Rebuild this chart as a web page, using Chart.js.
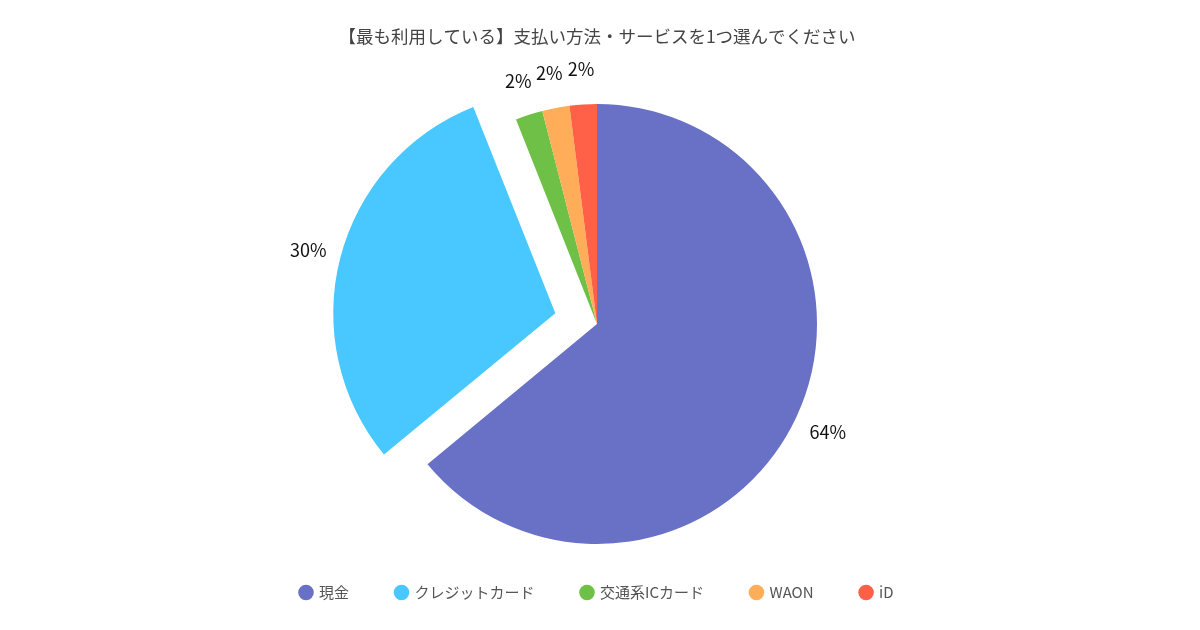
<!DOCTYPE html>
<html lang="ja">
<head>
<meta charset="UTF-8" />
<title>支払い方法</title>
<style>
 * { margin: 0; padding: 0; box-sizing: border-box; }
 body { width: 1200px; height: 630px; background: #fff; overflow: hidden; }
 .wrap { width: 1200px; height: 630px; position: relative; }
</style>
</head>
<body>
<div class="wrap">
 <canvas id="chart" width="1200" height="630"></canvas>
</div>

<script src="https://cdn.jsdelivr.net/npm/chart.js@4.4.1/dist/chart.umd.min.js"></script>
<script>
 const titleText = '【最も利用している】支払い方法・サービスを1つ選んでください'
 const categories = ['現金', 'クレジットカード', '交通系ICカード', 'WAON', 'iD']
 const values = [64, 30, 2, 2, 2]
 const sliceColors = ['#6971c6', '#48c8ff', '#6ec046', '#ffad58', '#ff6047']

 // クレジットカードだけ外に出す（px）
 const explodeIndex = 1
 const explodePx = 43

 const fontJP = '"Noto Sans CJK JP", "Noto Sans", sans-serif'

 // ラベルをスライスの外側に描く
 const outsideLabels = {
  id: 'outsideLabels',
  afterDatasetsDraw(chart) {
   const ctx = chart.ctx
   const meta = chart.getDatasetMeta(0)
   const total = values.reduce((a, b) => a + b, 0)
   ctx.save()
   ctx.font = '18px ' + fontJP
   ctx.fillStyle = '#111'
   ctx.textAlign = 'center'
   ctx.textBaseline = 'middle'
   meta.data.forEach((arc, i) => {
    const p = arc.getProps(['x', 'y', 'startAngle', 'endAngle', 'outerRadius'], true)
    const mid = (p.startAngle + p.endAngle) / 2
    const off = i === explodeIndex ? explodePx : 0
    const r = p.outerRadius + 35 + off
    const pct = Math.round((values[i] / total) * 100) + '%'
    ctx.fillText(pct, p.x + Math.cos(mid) * r, p.y + Math.sin(mid) * r)
   })
   ctx.restore()
  }
 }

 new Chart(document.getElementById('chart'), {
  type: 'pie',
  plugins: [outsideLabels],
  data: {
   labels: categories,
   datasets: [
    {
     data: values,
     backgroundColor: sliceColors,
     borderWidth: 0,
     // v4 は offset を 1/4 にして描くので 4 倍しておく
     offset: categories.map((c, i) => (i === explodeIndex ? explodePx * 4 : 0)),
     hoverOffset: 0,
     clip: false
    }
   ]
  },
  options: {
   responsive: false,
   animation: false,
   devicePixelRatio: 1,
   radius: 220,
   layout: { padding: { top: 0, bottom: 20, left: 0, right: 6 } },
   plugins: {
    tooltip: { enabled: false },
    title: {
     display: true,
     text: titleText,
     color: '#444',
     font: { family: fontJP, size: 17.5, weight: 'normal' },
     padding: { top: 26, bottom: 63 }
    },
    legend: {
     position: 'bottom',
     labels: {
      usePointStyle: true,
      pointStyle: 'circle',
      boxWidth: 11,
      boxHeight: 11,
      padding: 47,
      color: '#555',
      font: { family: fontJP, size: 15 }
     }
    }
   }
  }
 })
</script>
</body>
</html>
